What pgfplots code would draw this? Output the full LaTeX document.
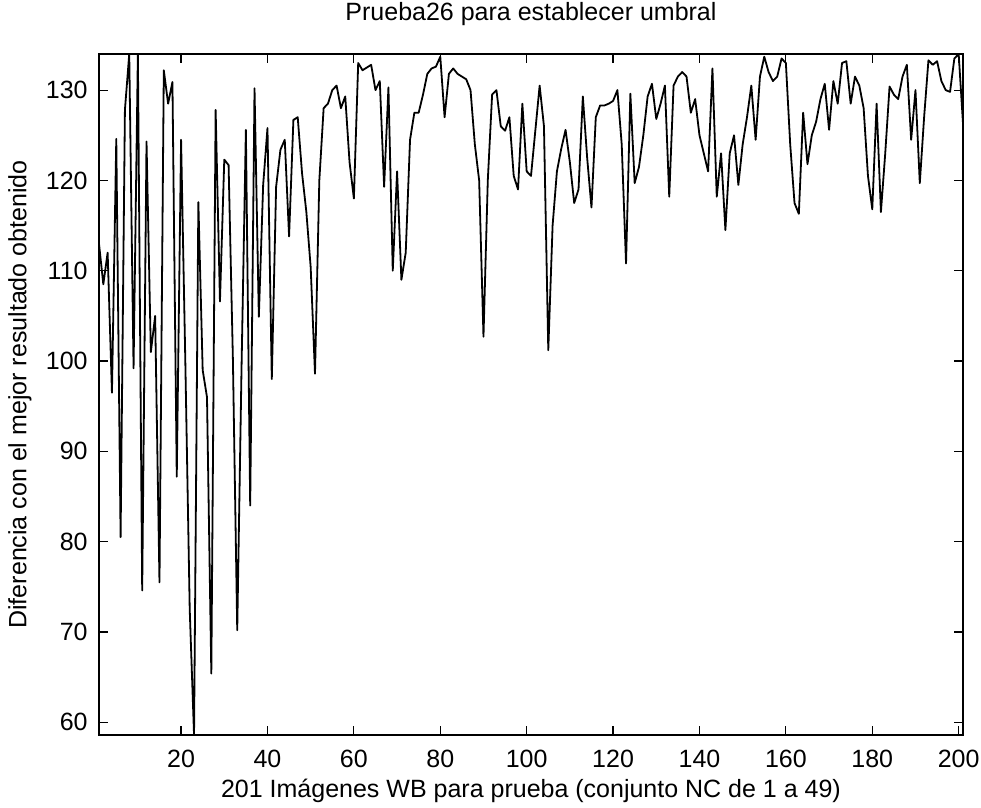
\documentclass[border=0pt]{standalone}
\usepackage{fontspec}
\setmainfont{Liberation Sans}
\usepackage{pgfplots}
\pgfplotsset{compat=1.18}
\usepackage{pgfplotstable}

% diferencia con el mejor resultado, 201 imagenes
\pgfplotstableread{
x y
1 113
2 108.5
3 112
4 96.5
5 124.6
6 80.5
7 127.8
8 134
9 99.2
10 134
11 74.6
12 124.3
13 101
14 105
15 75.5
16 132.2
17 128.5
18 130.9
19 87.2
20 124.5
21 99.5
22 72.5
23 58.6
24 117.6
25 99
26 96
27 65.4
28 127.8
29 106.6
30 122.3
31 121.7
32 100.1
33 70.2
34 99.4
35 125.6
36 84
37 130.2
38 104.9
39 119.5
40 125.8
41 98
42 119.3
43 123.4
44 124.5
45 113.8
46 126.7
47 127
48 120.8
49 116.5
50 110.4
51 98.6
52 120
53 128
54 128.5
55 130
56 130.5
57 128
58 129.3
59 122
60 118
61 133
62 132.2
63 132.5
64 132.8
65 130
66 131
67 119.3
68 130.3
69 110
70 121
71 109
72 112
73 124.5
74 127.5
75 127.5
76 129.5
77 131.8
78 132.4
79 132.6
80 133.7
81 127
82 131.8
83 132.4
84 131.8
85 131.5
86 131.2
87 130
88 124
89 120
90 102.7
91 120
92 129.5
93 130
94 126
95 125.5
96 127
97 120.5
98 119
99 128.5
100 121
101 120.5
102 125.5
103 130.5
104 126
105 101.2
106 115
107 121
108 123.5
109 125.6
110 122
111 117.5
112 119
113 129.3
114 122.5
115 117
116 127
117 128.3
118 128.3
119 128.5
120 128.8
121 130
122 124
123 110.8
124 129.6
125 119.7
126 121.5
127 125
128 129.3
129 130.7
130 126.8
131 128.5
132 130.5
133 118.2
134 130.5
135 131.5
136 132
137 131.5
138 127.5
139 129
140 125
141 123
142 121
143 132.4
144 118.2
145 123
146 114.5
147 123
148 125
149 119.5
150 124
151 127
152 130.5
153 124.5
154 131.5
155 133.7
156 132
157 131
158 131.5
159 133.5
160 133
161 124
162 117.5
163 116.3
164 127.5
165 121.8
166 125
167 126.5
168 129
169 130.7
170 125.6
171 131
172 128.5
173 133
174 133.2
175 128.5
176 131.5
177 130.5
178 128
179 120.5
180 116.8
181 128.5
182 116.5
183 123
184 130.4
185 129.5
186 129
187 131.5
188 132.8
189 124.5
190 130
191 119.7
192 127
193 133.3
194 132.8
195 133.2
196 131
197 130
198 129.8
199 133.5
200 134
201 126.3
}\umbral

\begin{document}
\begin{tikzpicture}
\begin{axis}[
    scale only axis, width=432pt, height=340.5pt,
    xmin=1, xmax=201, ymin=58.6, ymax=134,
    xtick={20,40,...,200}, ytick={60,70,...,130},
    tick align=inside, major tick length=4.5pt,
    axis line style={line width=0.8pt},
    every tick/.style={black, line width=0.6pt},
    tick label style={font=\fontsize{12.5}{14}\selectfont},
    /pgf/number format/assume math mode=true,
    xticklabel style={anchor=base, yshift=-16.5pt},
    yticklabel style={anchor=east, inner sep=0pt, xshift=-5.5pt},
    title={Prueba26 para establecer umbral},
    title style={at={(axis description cs:0.5,1.0308)}, anchor=base, font=\fontsize{12.5}{14}\selectfont},
    xlabel={201 Imágenes WB para prueba (conjunto NC de 1 a 49)},
    xlabel style={at={(axis description cs:0.5,-0.0925)}, anchor=base, font=\fontsize{12.5}{14}\selectfont},
    ylabel={Diferencia con el mejor resultado obtenido},
    ylabel style={at={(axis description cs:-0.0914,0.5)}, anchor=center, font=\fontsize{12.5}{14}\selectfont},
]
\coordinate (sw) at (rel axis cs:0,0);
\addplot[black, line width=0.9pt, line join=round, mark=none] table[x=x, y=y] {\umbral};
\end{axis}
\pgfresetboundingbox
\path (sw) ++(-49.5pt,-36.5pt) rectangle ++(490.5pt,404pt);
\end{tikzpicture}
\end{document}
